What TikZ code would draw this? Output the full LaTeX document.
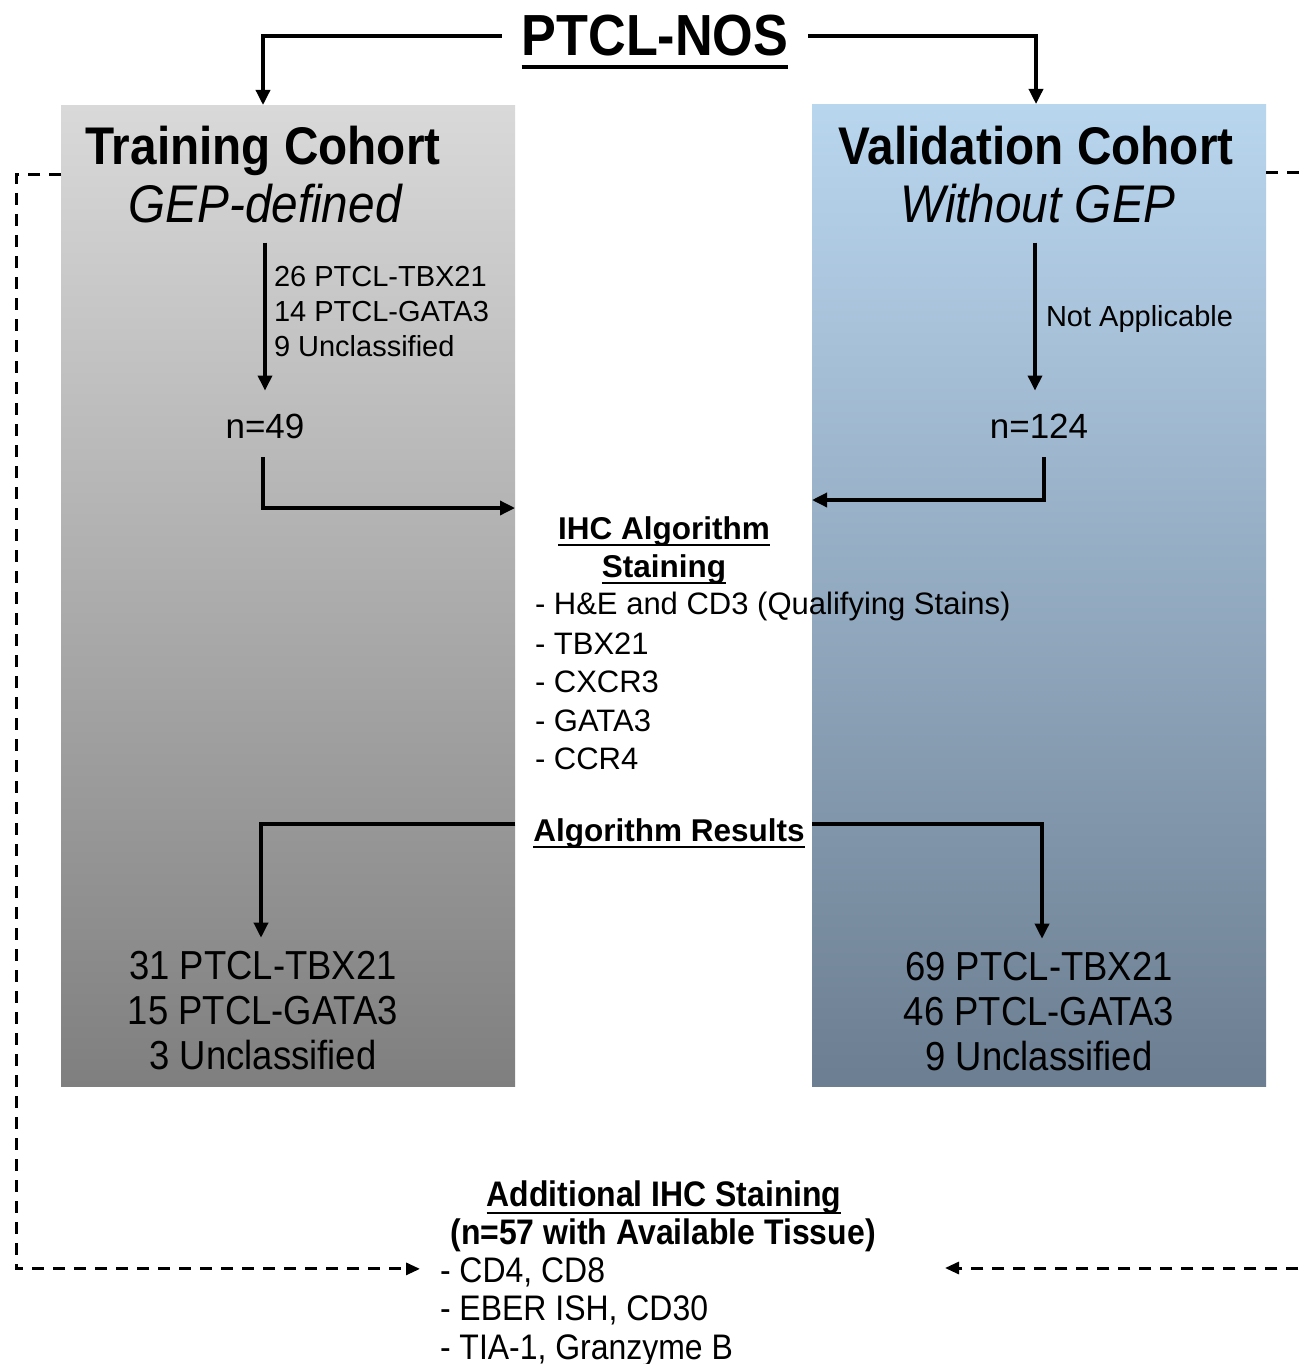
\documentclass[tikz,border=0pt]{standalone}
\usepackage{fontspec}
\setmainfont{Liberation Sans}
\newfontfamily\condfont[FakeStretch=0.9]{Liberation Sans}
\usetikzlibrary{arrows.meta,calc}
\definecolor{grayTop}{RGB}{217,217,217}
\definecolor{grayBot}{RGB}{127,127,127}
\definecolor{blueTop}{RGB}{185,214,239}
\definecolor{blueBot}{RGB}{108,126,145}
\newcommand\myfs[1]{\fontsize{#1}{#1}\selectfont}
\newsavebox\ulbox
\newcommand\myul[1]{\sbox\ulbox{#1}\rlap{\raisebox{-0.22em}{\rule{\wd\ulbox}{0.06em}}}\usebox\ulbox}
\begin{document}
\begin{tikzpicture}[x=1pt,y=-1pt,
  txt/.style={inner sep=0pt, outer sep=0pt},
  arr/.style={line width=3.4pt, -{Triangle[length=15pt,width=14pt]}},
  darr/.style={line width=3pt, dash pattern=on 12pt off 9pt, -{Triangle[length=14pt,width=12pt]}},
  cbox/.style={anchor=north west, inner sep=0pt, minimum width=454pt, minimum height=#1},
  titlestyle/.style={txt, font={\condfont\bfseries\myfs{58}}, text height=40pt, text depth=0pt, inner xsep=20pt},
  head/.style={txt, anchor=base, font={\condfont\bfseries\myfs{53}}},
  headit/.style={txt, anchor=base, font={\condfont\itshape\myfs{53}}},
  small/.style={txt, anchor=base west, font={\myfs{29}}},
  mid/.style={txt, anchor=base, font={\myfs{35}}},
  bhead/.style={txt, anchor=base, font={\bfseries\myfs{31.5}}},
  listA/.style={txt, anchor=base west, font={\myfs{31}}},
  res/.style={txt, anchor=base, font={\condfont\myfs{40.5}}},
  bhead2/.style={txt, anchor=base, font={\condfont\bfseries\myfs{35.5}}},
  listB/.style={txt, anchor=base west, font={\condfont\myfs{35.5}}}
]
\useasboundingbox (0,0) rectangle (1306,1364);
\clip (0,0) rectangle (1306,1364);
\fill[white] (0,0) rectangle (1306,1364);

% cohort boxes
\node[cbox=981pt, top color=grayTop, bottom color=grayBot] (trainbox) at (61,105) {};
\node[cbox=982pt, top color=blueTop, bottom color=blueBot] (valbox) at (812,104) {};

% title
\node[titlestyle] (title) at (655,36) {\myul{PTCL-NOS}};

% headers
\node[head] (tc) at (263,165) {Training Cohort};
\node[headit] (gep) at (265,223) {GEP-defined};
\node[head] (vc) at (1036,165) {Validation Cohort};
\node[headit] (wgep) at (1038,223) {Without GEP};

% GEP labels
\node[small] (l26) at (274,286) {26 PTCL-TBX21};
\node[small] (l14) at (274,321) {14 PTCL-GATA3};
\node[small] (l9) at (274,356) {9 Unclassified};
\node[small] (na) at (1046,326) {Not Applicable};

\node[mid] (n49) at (265,438) {n=49};
\node[mid] (n124) at (1039,438) {n=124};

% IHC algorithm
\node[bhead] (ihc1) at (664,539) {\myul{IHC Algorithm}};
\node[bhead] (ihc2) at (664,577) {\myul{Staining}};
\node[listA] (s1) at (535,614) {- H\&E and CD3 (Qualifying Stains)};
\node[listA] (s2) at (535,654) {- TBX21};
\node[listA] (s3) at (535,692) {- CXCR3};
\node[listA] (s4) at (535,731) {- GATA3};
\node[listA] (s5) at (535,769) {- CCR4};

\node[bhead, text height=34pt, text depth=0pt] (ares) at (669,841) {\myul{Algorithm Results}};

% results
\node[res] (r31) at (263,979) {31 PTCL-TBX21};
\node[res] (r15) at (263,1024) {15 PTCL-GATA3};
\node[res] (r3) at (263,1069) {3 Unclassified};
\node[res] (r69) at (1039,980) {69 PTCL-TBX21};
\node[res] (r46) at (1039,1025) {46 PTCL-GATA3};
\node[res] (r9) at (1039,1070) {9 Unclassified};

% additional staining
\node[bhead2] (add1) at (664,1206) {\myul{Additional IHC Staining}};
\node[bhead2] (add2) at (663,1244) {(n=57 with Available Tissue)};
\node[listB] (a1) at (440,1282) {- CD4, CD8};
\node[listB] (a2) at (440,1320) {- EBER ISH, CD30};
\node[listB] (a3) at (440,1359) {- TIA-1, Granzyme B};

% connectors
\draw[arr] (title.west) -| (tc |- trainbox.north);
\draw[arr] (title.east) -| (vc |- valbox.north);
\draw[arr, shorten <=19pt, shorten >=23pt] (gep.south) -- (gep.south |- n49.north);
\draw[arr, shorten <=19pt, shorten >=23pt] ([xshift=-3pt]wgep.south) -- ([xshift=-3pt]wgep.south |- n124.north);
\coordinate (inL) at (515,508);
\coordinate (inR) at (812,500);
\draw[arr, shorten <=19pt] ([xshift=-2pt]n49.south) |- (inL);
\draw[arr, shorten <=19pt] ([xshift=5pt]n124.south) |- (inR);
\draw[arr, shorten >=13pt] (trainbox.east |- ares.west) -| ([xshift=-2pt]r31.north);
\draw[arr, shorten >=13pt] (valbox.west |- ares.east) -| ([xshift=3pt]r69.north);

% dashed connectors
\coordinate (dR) at (945,1268);
\draw[darr, shorten >=20pt] ([yshift=-70pt]trainbox.north west) -- ++(-45,0) |- ([yshift=3pt]a1.west);
\draw[darr] ([yshift=-69pt]valbox.north east) -- ++(46,0) |- (dR);
\end{tikzpicture}
\end{document}
